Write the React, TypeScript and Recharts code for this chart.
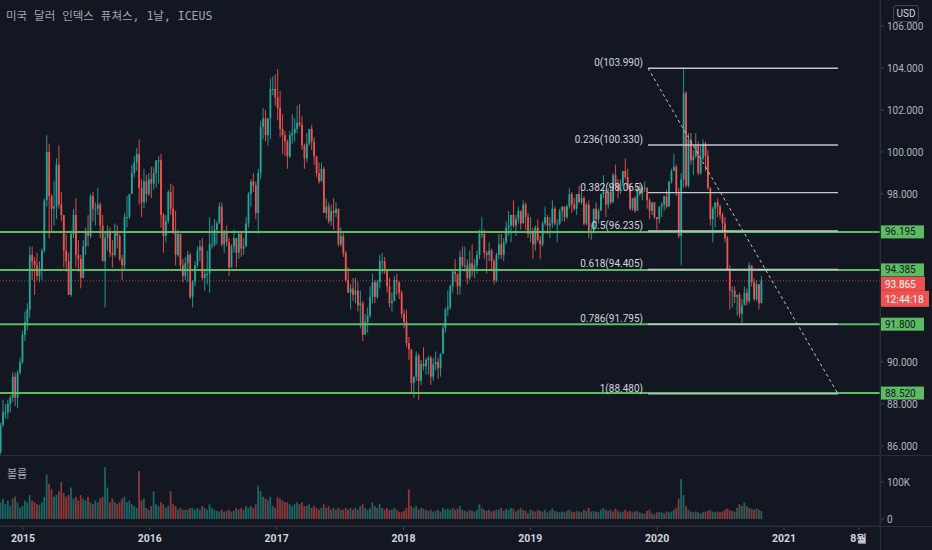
import React from 'react'
import { ComposedChart, Bar, XAxis, YAxis, ReferenceLine, Cell } from 'recharts'

const BG = '#131722'
const UP = '#26a69a'
const DOWN = '#ef5350'
const GREEN = '#5dbb63'
const TEXT = '#b2b5be'
const LINE = '#2a2e39'
const FONT = 'Roboto, "Noto Sans", sans-serif'

// weekly candles, first week ends 2014-10-31
const FIRST_WEEK = 2014.825
const FIRST_OPEN = 85.7

const closes = [
  87.0, 87.6, 87.6, 88.0, 88.3, 89.3, 88.3, 89.5, 90.0, 91.3,
  91.9, 92.5, 95.1, 94.8, 94.6, 94.1, 94.4, 95.3, 97.7, 100.0,
  97.9, 97.3, 97.4, 99.4, 97.5, 97.0, 95.3, 94.8, 93.2, 96.1,
  97.0, 95.1, 94.9, 94.0, 95.5, 96.2, 96.0, 97.9, 97.3, 97.3,
  97.5, 96.5, 94.8, 95.9, 96.2, 95.2, 95.1, 96.2, 96.0, 94.9,
  94.6, 96.9, 96.9, 98.0, 99.0, 99.5, 99.9, 98.3, 97.6, 98.6,
  98.0, 98.7, 98.5, 99.0, 99.6, 99.6, 97.0, 96.0, 96.7, 98.1,
  97.3, 96.2, 95.1, 96.1, 94.6, 94.1, 94.7, 95.1, 93.1, 93.8,
  94.6, 95.3, 95.5, 94.0, 94.2, 94.2, 95.6, 95.6, 96.3, 96.6,
  97.4, 95.6, 96.2, 95.7, 94.5, 95.5, 95.9, 95.2, 96.1, 95.4,
  95.5, 96.6, 98.0, 98.6, 98.4, 97.1, 99.0, 101.2, 101.6, 100.8,
  101.6, 103.0, 103.0, 102.6, 102.1, 101.1, 100.8, 100.5, 99.8, 100.8,
  100.9, 101.1, 101.4, 101.3, 100.3, 99.7, 100.4, 101.1, 100.5, 99.8,
  99.0, 98.6, 99.2, 97.1, 97.4, 96.7, 97.2, 97.1, 97.3, 95.6,
  96.0, 95.2, 93.9, 93.3, 93.5, 93.2, 93.4, 92.7, 92.8, 91.3,
  91.9, 92.2, 93.1, 93.8, 93.1, 93.8, 94.8, 94.8, 94.4, 93.6,
  92.8, 92.9, 93.9, 93.8, 93.3, 92.3, 91.9, 90.9, 90.6, 89.0,
  89.3, 90.3, 89.1, 89.9, 89.8, 90.1, 90.2, 89.3, 89.9, 90.0,
  89.7, 90.4, 91.6, 92.5, 92.6, 93.6, 94.3, 94.2, 93.6, 95.0,
  94.6, 94.6, 94.0, 94.7, 94.4, 94.6, 95.1, 96.1, 96.1, 95.2,
  95.1, 95.3, 94.8, 93.9, 95.1, 95.6, 95.1, 95.7, 96.4, 96.5,
  97.0, 96.5, 96.8, 97.2, 96.6, 97.5, 96.9, 96.1, 96.2, 95.6,
  96.4, 95.8, 95.6, 96.6, 96.9, 96.5, 96.6, 97.3, 96.6, 96.6,
  97.2, 97.4, 96.9, 97.4, 98.0, 97.5, 97.3, 98.0, 97.6, 97.8,
  96.6, 97.5, 96.2, 96.2, 97.3, 96.8, 97.2, 98.0, 98.1, 97.5,
  98.1, 97.6, 98.9, 98.4, 98.2, 98.5, 99.1, 98.8, 98.3, 97.3,
  97.8, 97.2, 98.3, 98.0, 98.3, 98.3, 97.7, 97.2, 97.6, 96.9,
  96.8, 97.4, 97.5, 97.9, 97.4, 98.6, 99.1, 99.3, 98.1, 96.0,
  98.7, 102.8, 98.4, 100.6, 99.6, 99.8, 100.3, 99.0, 99.7, 100.4,
  99.8, 98.3, 96.8, 97.3, 97.6, 97.4, 97.0, 96.6, 95.9, 94.4,
  93.4, 93.4, 93.1, 93.2, 92.3, 92.7, 93.3, 92.9, 94.6, 93.8,
  93.0, 93.7, 92.8, 93.865,
]

const highs = [
  87.1, 88.2, 88.0, 88.2, 88.4, 89.5, 89.5, 89.6, 90.2, 91.5,
  92.4, 92.8, 95.5, 95.5, 95.0, 95.2, 94.8, 95.4, 97.8, 100.8,
  100.4, 98.0, 98.6, 99.7, 100.3, 98.1, 97.0, 96.1, 95.2, 96.2,
  97.3, 97.8, 95.8, 95.1, 95.8, 96.4, 97.0, 98.0, 98.1, 97.6,
  98.3, 97.6, 97.0, 96.2, 96.5, 96.4, 95.8, 96.6, 96.5, 96.1,
  95.1, 97.1, 97.9, 98.0, 99.4, 99.8, 100.2, 100.6, 98.7, 99.2,
  98.9, 99.0, 99.3, 99.3, 99.6, 99.8, 99.9, 97.1, 97.0, 98.2,
  98.5, 98.4, 97.2, 96.3, 96.1, 94.9, 95.0, 95.3, 95.2, 93.9,
  94.8, 95.5, 95.8, 95.9, 94.4, 95.3, 96.9, 96.5, 96.8, 96.7,
  97.6, 97.6, 96.3, 96.5, 95.9, 95.6, 96.3, 95.9, 96.2, 96.2,
  95.9, 96.9, 98.1, 98.7, 99.0, 98.6, 99.2, 101.5, 102.1, 102.0,
  101.6, 103.5, 103.6, 103.7, 103.95, 102.9, 101.8, 101.0, 100.6, 101.0,
  101.8, 101.6, 102.2, 102.3, 101.7, 100.4, 100.9, 101.1, 101.3, 100.7,
  99.6, 99.5, 99.5, 99.3, 97.8, 97.6, 97.5, 97.8, 97.6, 97.3,
  96.4, 96.2, 95.3, 94.5, 93.7, 94.0, 94.0, 93.8, 93.4, 92.9,
  92.3, 92.6, 93.6, 94.2, 93.9, 93.9, 95.1, 95.2, 95.0, 94.4,
  94.0, 93.3, 94.1, 94.2, 93.8, 93.4, 92.5, 92.5, 91.2, 90.6,
  89.3, 90.5, 90.4, 90.1, 90.7, 90.2, 90.3, 90.3, 90.2, 90.5,
  90.2, 90.4, 91.8, 92.6, 93.4, 93.7, 94.4, 94.9, 94.2, 95.3,
  95.5, 95.5, 94.9, 95.3, 95.6, 94.9, 95.3, 96.3, 96.9, 96.3,
  95.3, 95.7, 95.4, 94.9, 95.2, 96.1, 96.1, 95.9, 96.7, 97.2,
  97.0, 97.7, 97.0, 97.4, 97.2, 97.7, 97.6, 97.1, 96.9, 96.4,
  96.5, 96.8, 96.0, 96.7, 97.4, 97.0, 96.9, 97.7, 97.4, 96.8,
  97.3, 97.4, 97.4, 97.5, 98.3, 98.1, 97.8, 98.0, 98.4, 98.2,
  97.9, 97.6, 97.7, 96.6, 97.3, 97.6, 97.3, 98.0, 98.9, 98.2,
  98.3, 98.4, 99.0, 99.4, 98.7, 98.7, 99.1, 99.7, 99.2, 98.5,
  97.8, 97.9, 98.4, 98.5, 98.4, 98.6, 98.3, 97.8, 97.6, 97.6,
  96.9, 97.4, 97.6, 97.9, 98.2, 98.6, 99.2, 99.9, 99.4, 98.3,
  99.0, 103.99, 102.9, 100.9, 100.9, 100.1, 100.9, 100.5, 100.3, 100.6,
  100.5, 100.1, 98.3, 97.4, 97.6, 97.8, 97.5, 97.1, 96.9, 96.0,
  94.6, 93.6, 93.6, 93.2, 93.3, 93.0, 93.6, 93.5, 94.75, 94.6,
  94.0, 93.9, 93.7, 94.1,
]

const lows = [
  85.6, 86.9, 87.3, 87.3, 87.6, 88.1, 87.9, 87.8, 89.4, 89.9,
  91.0, 91.5, 92.1, 93.9, 93.2, 93.9, 93.8, 93.9, 95.2, 97.4,
  95.9, 96.2, 96.5, 96.8, 97.3, 96.7, 94.5, 94.3, 93.2, 93.1,
  95.9, 94.5, 94.3, 93.5, 94.0, 95.1, 95.5, 95.9, 96.7, 96.5,
  97.0, 95.9, 94.8, 92.6, 95.3, 95.0, 94.5, 95.0, 95.4, 94.8,
  93.9, 94.4, 96.4, 96.8, 98.0, 98.8, 99.1, 97.5, 96.9, 97.3,
  97.6, 97.9, 97.8, 98.2, 98.3, 98.5, 96.4, 95.2, 95.7, 96.6,
  97.0, 96.1, 94.6, 95.0, 94.4, 93.8, 93.9, 93.8, 93.0, 92.6,
  93.6, 94.5, 94.8, 93.9, 93.4, 93.7, 93.3, 95.4, 95.5, 95.6,
  96.6, 95.5, 95.2, 95.5, 94.1, 94.5, 95.2, 94.5, 94.9, 95.0,
  95.1, 95.5, 96.4, 97.4, 98.1, 96.8, 96.1, 98.7, 100.6, 100.5,
  100.3, 100.6, 102.7, 102.2, 101.5, 100.7, 99.9, 99.8, 99.2, 99.7,
  100.4, 100.5, 100.9, 101.2, 100.1, 99.2, 99.5, 100.3, 100.1, 99.4,
  98.8, 98.5, 98.6, 97.1, 96.8, 96.6, 96.5, 96.3, 96.9, 95.5,
  95.5, 95.0, 93.8, 93.3, 92.5, 92.9, 92.8, 92.4, 91.6, 91.0,
  91.3, 91.4, 92.1, 92.8, 92.8, 93.0, 93.5, 94.2, 94.2, 93.3,
  92.6, 92.4, 92.9, 93.2, 93.0, 92.1, 91.6, 90.7, 90.1, 88.5,
  88.3, 89.1, 88.2, 88.9, 89.6, 89.4, 89.4, 88.9, 89.1, 89.6,
  89.2, 89.3, 90.4, 91.4, 92.2, 92.5, 93.3, 93.8, 93.2, 93.2,
  94.5, 94.3, 93.7, 93.9, 94.1, 94.0, 94.2, 94.9, 95.9, 94.9,
  94.2, 94.8, 94.4, 93.7, 93.8, 94.9, 94.9, 94.8, 95.6, 96.0,
  95.7, 96.4, 96.0, 96.6, 96.3, 96.6, 96.3, 95.9, 95.7, 94.9,
  95.3, 95.7, 94.9, 95.5, 96.5, 96.1, 95.9, 96.4, 96.5, 95.7,
  96.5, 96.7, 96.7, 96.8, 97.3, 97.1, 97.2, 97.0, 97.6, 97.5,
  96.5, 96.5, 95.9, 95.8, 96.1, 96.6, 96.6, 97.2, 97.8, 96.9,
  97.3, 97.5, 97.6, 98.3, 97.8, 98.0, 98.4, 98.7, 98.2, 97.2,
  97.2, 97.1, 97.2, 97.9, 97.7, 98.1, 97.3, 96.8, 97.0, 96.8,
  96.3, 96.6, 96.9, 97.2, 97.3, 97.4, 98.5, 99.1, 97.9, 95.9,
  94.6, 98.3, 98.3, 98.3, 99.4, 98.9, 99.7, 98.9, 98.9, 99.6,
  99.1, 98.2, 96.5, 95.7, 96.4, 96.9, 96.8, 96.2, 95.7, 94.4,
  92.5, 92.6, 92.8, 92.2, 92.1, 91.75, 92.7, 92.7, 92.8, 93.6,
  92.9, 92.9, 92.5, 92.8,
]

// average daily volume per week, thousands
const volumes = [
  45, 55, 40, 50, 35, 55, 60, 45, 30, 35,
  50, 45, 65, 50, 45, 40, 38, 45, 60, 120,
  95, 80, 60, 65, 75, 100, 70, 60, 65, 85,
  55, 60, 50, 65, 55, 50, 60, 45, 40, 50,
  45, 55, 60, 140, 85, 45, 55, 45, 40, 45,
  55, 60, 45, 50, 40, 35, 30, 130, 50, 55,
  30, 25, 35, 75, 40, 35, 45, 40, 30, 35,
  75, 40, 35, 25, 30, 25, 25, 25, 30, 30,
  25, 30, 25, 35, 30, 25, 40, 30, 25, 22,
  20, 25, 20, 22, 25, 20, 22, 30, 25, 30,
  25, 35, 30, 35, 30, 40, 90, 75, 60, 55,
  50, 60, 35, 30, 60, 55, 50, 45, 45, 40,
  35, 40, 45, 40, 45, 35, 35, 40, 30, 35,
  30, 25, 30, 40, 30, 35, 25, 30, 25, 30,
  25, 25, 30, 25, 30, 25, 30, 25, 35, 40,
  30, 25, 30, 45, 35, 30, 40, 30, 25, 30,
  25, 25, 30, 25, 20, 18, 22, 30, 80, 35,
  30, 35, 25, 30, 28, 25, 22, 25, 20, 22,
  25, 20, 30, 25, 28, 25, 30, 25, 28, 35,
  25, 22, 20, 25, 22, 20, 25, 40, 30, 25,
  22, 25, 20, 22, 25, 25, 30, 22, 28, 25,
  30, 28, 20, 25, 30, 25, 22, 15, 25, 22,
  20, 25, 22, 20, 25, 18, 22, 28, 22, 20,
  18, 20, 18, 22, 25, 20, 18, 22, 20, 18,
  25, 22, 30, 20, 22, 20, 18, 25, 30, 25,
  22, 25, 20, 28, 22, 18, 20, 25, 20, 22,
  18, 20, 22, 18, 15, 15, 22, 25, 15, 12,
  18, 20, 18, 15, 20, 18, 20, 25, 30, 55,
  108, 65, 35, 25, 20, 18, 20, 18, 15, 18,
  20, 22, 25, 20, 18, 20, 18, 20, 25, 28,
  25, 22, 20, 30, 40, 35, 45, 35, 30, 28,
  25, 28, 25, 22,
]

const priceTicks = [86, 88, 90, 98, 100, 102, 104, 106]
const volumeTicks = [0, 100]
const timeTicks = [2015, 2016, 2017, 2018, 2019, 2020, 2021, 2021.59]
const timeTickLabels = ['2015', '2016', '2017', '2018', '2019', '2020', '2021', '8월']

const supportLevels = [96.195, 94.385, 91.8, 88.52]

const fibRatios = ['0', '0.236', '0.382', '0.5', '0.618', '0.786', '1']
const fibPrices = [103.99, 100.33, 98.065, 96.235, 94.405, 91.795, 88.48]
const fibStart = 2019.928
const fibEnd = 2021.426

const lastPrice = 93.865
const countdown = '12:44:18'

const X_DOMAIN = [2014.8187, 2021.757]
const PRICE_DOMAIN = [85.571, 107.238]
const VOLUME_DOMAIN = [-18.92, 170.27]

const candles = closes.map((close, i) => {
  const open = i === 0 ? FIRST_OPEN : closes[i - 1]
  return {
    t: FIRST_WEEK + (i * 7) / 365.25,
    open,
    high: highs[i],
    low: lows[i],
    close,
    vol: volumes[i],
    up: close >= open,
  }
})

function Candle(props: any) {
  const { x, y, width, height, payload } = props
  if (x == null || y == null) return null
  const { open, close, high, low } = payload
  const cx = x + width / 2
  const k = high > low ? height / (high - low) : 0
  const yo = y + (high - open) * k
  const yc = y + (high - close) * k
  const color = close >= open ? UP : DOWN
  const top = Math.min(yo, yc)
  const bh = Math.max(1, Math.abs(yc - yo))
  return (
    <g>
      <line x1={cx} x2={cx} y1={y} y2={y + height} stroke={color} strokeWidth={0.9} />
      <rect x={cx - 0.9} y={top} width={1.8} height={bh} fill={color} />
    </g>
  )
}

function FibLabel({ viewBox, text }: any) {
  if (!viewBox) return null
  return (
    <text
      x={viewBox.x - 5}
      y={viewBox.y - 2}
      textAnchor="end"
      fill="#d1d4dc"
      fontSize={10}
      fontFamily={FONT}
    >
      {text}
    </text>
  )
}

function LevelTag({ viewBox, text }: any) {
  if (!viewBox) return null
  const x = viewBox.x + viewBox.width
  const y = viewBox.y
  return (
    <g>
      <rect x={x + 1} y={y - 6.5} width={43} height={13} fill={GREEN} />
      <text x={x + 5} y={y + 3.5} fill="#131722" fontSize={10} fontFamily={FONT}>
        {text}
      </text>
    </g>
  )
}

function LastPriceTag({ viewBox, text, timer }: any) {
  if (!viewBox) return null
  const x = viewBox.x + viewBox.width
  const y = viewBox.y
  return (
    <g>
      <rect x={x + 1} y={y - 4} width={44} height={14} fill="#f0504f" />
      <rect x={x + 1} y={y + 10} width={48} height={16} fill="#f0504f" />
      <text x={x + 5} y={y + 7} fill="#ffffff" fontSize={10} fontFamily={FONT}>
        {text}
      </text>
      <text x={x + 5} y={y + 22} fill="#ffffff" fontSize={10} fontFamily={FONT}>
        {timer}
      </text>
    </g>
  )
}

function TimeTick(props: any) {
  const { x, y, payload, index } = props
  const label = timeTickLabels[index] ?? String(payload.value)
  return (
    <text
      x={x}
      y={y}
      dy={8}
      textAnchor="middle"
      fill="#d1d4dc"
      fontSize={10.5}
      fontWeight={700}
      fontFamily={FONT}
    >
      {label}
    </text>
  )
}

export default function App() {
  return (
    <div
      style={{
        position: 'fixed',
        left: 0,
        top: 0,
        width: 932,
        height: 550,
        background: BG,
        overflow: 'hidden',
        fontFamily: FONT,
      }}
    >
      <div style={{ position: 'absolute', left: 0, top: 0 }}>
        <ComposedChart
          width={932}
          height={455}
          data={candles}
          margin={{ top: 0, right: 0, bottom: 0, left: 0 }}
        >
          <XAxis dataKey="t" type="number" domain={X_DOMAIN} allowDataOverflow hide />
          <YAxis
            orientation="right"
            width={52}
            type="number"
            domain={PRICE_DOMAIN}
            allowDataOverflow
            ticks={priceTicks}
            tickFormatter={(v: number) => v.toFixed(3)}
            tick={{ fill: TEXT, fontSize: 10, fontFamily: FONT }}
            tickSize={4}
            tickMargin={3}
            axisLine={{ stroke: LINE }}
            tickLine={{ stroke: '#434651' }}
          />
          <Bar
            dataKey={(d: any) => [d.low, d.high]}
            shape={(p: any) => <Candle {...p} />}
            barSize={2}
            isAnimationActive={false}
          />
          <ReferenceLine
            y={lastPrice}
            stroke="#ef5350"
            strokeOpacity={0.7}
            strokeDasharray="1 2"
            ifOverflow="visible"
            label={<LastPriceTag text={lastPrice.toFixed(3)} timer={countdown} />}
          />
          {supportLevels.map((lvl) => (
            <ReferenceLine
              key={lvl}
              y={lvl}
              stroke={GREEN}
              strokeWidth={2}
              ifOverflow="visible"
              label={<LevelTag text={lvl.toFixed(3)} />}
            />
          ))}
          {fibPrices.map((p, i) => (
            <ReferenceLine
              key={'fib' + i}
              segment={[
                { x: fibStart, y: p },
                { x: fibEnd, y: p },
              ]}
              stroke="#c3c6ce"
              strokeWidth={1.4}
              ifOverflow="visible"
              label={<FibLabel text={`${fibRatios[i]}(${p.toFixed(3)})`} />}
            />
          ))}
          <ReferenceLine
            segment={[
              { x: fibStart, y: fibPrices[0] },
              { x: fibEnd, y: fibPrices[fibPrices.length - 1] },
            ]}
            stroke="#c3c6ce"
            strokeDasharray="3 3"
            ifOverflow="visible"
          />
        </ComposedChart>
      </div>

      <div style={{ position: 'absolute', left: 0, top: 455 }}>
        <ComposedChart
          width={932}
          height={95}
          data={candles}
          margin={{ top: 1, right: 0, bottom: 0, left: 0 }}
        >
          <XAxis
            dataKey="t"
            type="number"
            domain={X_DOMAIN}
            allowDataOverflow
            ticks={timeTicks}
            height={24}
            tick={<TimeTick />}
            tickSize={4}
            tickMargin={4}
            axisLine={{ stroke: LINE }}
            tickLine={{ stroke: '#434651' }}
            interval={0}
          />
          <YAxis
            orientation="right"
            width={52}
            type="number"
            domain={VOLUME_DOMAIN}
            allowDataOverflow
            ticks={volumeTicks}
            tickFormatter={(v: number) => (v === 0 ? '0' : `${v}K`)}
            tick={{ fill: TEXT, fontSize: 10, fontFamily: FONT }}
            tickSize={4}
            tickMargin={3}
            axisLine={{ stroke: LINE }}
            tickLine={{ stroke: '#434651' }}
          />
          <Bar dataKey="vol" barSize={1.8} isAnimationActive={false}>
            {candles.map((c, i) => (
              <Cell key={i} fill={c.up ? UP : DOWN} fillOpacity={0.55} />
            ))}
          </Bar>
        </ComposedChart>
      </div>

      <div style={{ position: 'absolute', left: 0, top: 455, width: 932, height: 1, background: LINE }} />
      <div style={{ position: 'absolute', left: 0, top: 526, width: 932, height: 1, background: LINE }} />
      <div style={{ position: 'absolute', left: 880, top: 0, width: 1, height: 550, background: LINE }} />

      <div
        style={{
          position: 'absolute',
          left: 6,
          top: 7,
          fontSize: 11.5,
          color: '#a3a6af',
          fontFamily: '"DejaVu Sans Mono", "Noto Sans CJK KR", monospace',
          whiteSpace: 'nowrap',
        }}
      >
        미국 달러 인덱스 퓨쳐스, 1날, ICEUS
      </div>
      <div
        style={{
          position: 'absolute',
          left: 7,
          top: 465,
          fontSize: 11,
          color: '#a3a6af',
          fontFamily: '"Noto Sans CJK KR", sans-serif',
        }}
      >
        볼륨
      </div>
      <div
        style={{
          position: 'absolute',
          left: 893,
          top: 5,
          width: 24,
          height: 15,
          border: '1px solid #434651',
          borderRadius: 3,
          background: BG,
          color: '#d1d4dc',
          fontSize: 10,
          lineHeight: '15px',
          textAlign: 'center',
        }}
      >
        USD
      </div>
    </div>
  )
}
